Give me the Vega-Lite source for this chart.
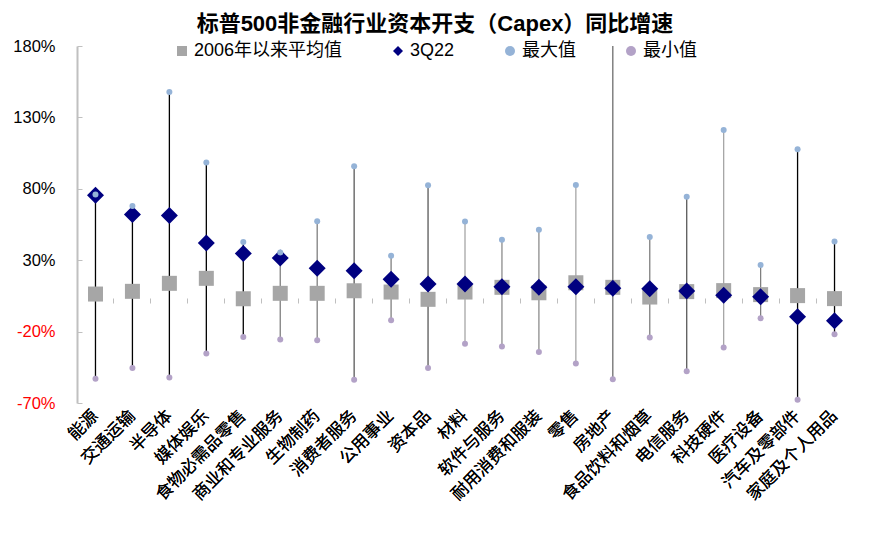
{
  "$schema": "https://vega.github.io/schema/vega-lite/v6.json",
  "width": 776,
  "height": 357,
  "autosize": {"type": "none"},
  "padding": {"left": 77, "top": 46, "right": 17, "bottom": 137},
  "background": "white",
  "title": {
    "text": "标普500非金融行业资本开支（Capex）同比增速",
    "font": "Liberation Sans, Noto Sans CJK SC",
    "fontSize": 22,
    "fontWeight": "bold",
    "color": "black",
    "anchor": "middle",
    "dx": -30,
    "offset": 2
  },
  "config": {
    "view": {"stroke": null},
    "axis": {"grid": false}
  },
  "data": {
    "values": [
      {"cat": "能源", "avg": 6.3, "q3": 75.5, "max": 76, "min": -53},
      {"cat": "交通运输", "avg": 8.2, "q3": 62, "max": 68, "min": -45.5},
      {"cat": "半导体", "avg": 13.8, "q3": 61.3, "max": 147.8, "min": -52.2},
      {"cat": "媒体娱乐", "avg": 17.3, "q3": 42, "max": 98.4, "min": -35.4},
      {"cat": "食物必需品零售", "avg": 3, "q3": 34.7, "max": 42.7, "min": -23.8},
      {"cat": "商业和专业服务", "avg": 6.8, "q3": 31.5, "max": 35.4, "min": -25.6},
      {"cat": "生物制药", "avg": 6.8, "q3": 24.3, "max": 57.3, "min": -26.1},
      {"cat": "消费者服务", "avg": 8.6, "q3": 22.6, "max": 95.8, "min": -53.8},
      {"cat": "公用事业", "avg": 7.7, "q3": 16.6, "max": 33.1, "min": -12.1},
      {"cat": "资本品", "avg": 2.6, "q3": 13.3, "max": 82.5, "min": -45.5},
      {"cat": "材料", "avg": 7.7, "q3": 13.3, "max": 57.1, "min": -28.5},
      {"cat": "软件与服务", "avg": 11, "q3": 11.4, "max": 44.3, "min": -30.5},
      {"cat": "耐用消费和服装", "avg": 7.2, "q3": 11, "max": 51.3, "min": -34.3},
      {"cat": "零售", "avg": 14.2, "q3": 11.4, "max": 82.7, "min": -42.4},
      {"cat": "房地产", "avg": 11, "q3": 10.3, "max": 210, "min": -53.4},
      {"cat": "食品饮料和烟草", "avg": 4.2, "q3": 10, "max": 46.2, "min": -24.2},
      {"cat": "电信服务", "avg": 8, "q3": 8.4, "max": 74.4, "min": -47.8},
      {"cat": "科技硬件", "avg": 8.7, "q3": 5.4, "max": 121.2, "min": -31.2},
      {"cat": "医疗设备", "avg": 5.9, "q3": 4.4, "max": 26.6, "min": -10.7},
      {"cat": "汽车及零部件", "avg": 5.2, "q3": -9.6, "max": 107.7, "min": -67.8},
      {"cat": "家庭及个人用品", "avg": 3.1, "q3": -12.4, "max": 43.1, "min": -21.9}
    ]
  },
  "encoding": {
    "x": {
      "field": "cat",
      "type": "nominal",
      "sort": null,
      "title": null,
      "scale": {"paddingInner": 0, "paddingOuter": 0},
      "axis": {
        "orient": "bottom",
        "domain": false,
        "ticks": false,
        "labelAngle": -45,
        "labelAlign": "right",
        "labelBaseline": "middle",
        "labelPadding": 10,
        "labelFont": "Liberation Sans, Noto Sans CJK SC",
        "labelFontSize": 17,
        "labelColor": "black",
        "labelLimit": 0
      }
    }
  },
  "layer": [
    {
      "mark": {"type": "rule", "strokeWidth": 1.3, "clip": true},
      "encoding": {
        "x": {
          "field": "cat",
          "type": "nominal",
          "sort": null,
          "title": null,
          "axis": {
            "orient": "top",
            "offset": -257,
            "domain": false,
            "labels": false,
            "ticks": true,
            "bandPosition": 0,
            "tickColor": "#bfbfbf",
            "tickSize": 5
          }
        },
        "y": {
          "field": "min",
          "type": "quantitative",
          "title": null,
          "scale": {"domain": [-70, 180], "nice": false, "zero": false},
          "axis": {
            "values": [-70, -20, 30, 80, 130, 180],
            "labelExpr": "datum.value + '%'",
            "labelFont": "Liberation Sans, Noto Sans CJK SC",
            "labelFontSize": 16.5,
            "labelColor": {"condition": {"test": "datum.value < 0", "value": "#ff0000"}, "value": "black"},
            "domainColor": "#c0c0c0",
            "domainWidth": 2,
            "tickColor": "#c0c0c0",
            "tickSize": -5,
            "labelPadding": 27
          }
        },
        "y2": {"field": "max"},
        "stroke": {
          "field": "cat",
          "type": "nominal",
          "legend": null,
          "scale": {
            "domain": ["能源", "交通运输", "半导体", "媒体娱乐", "食物必需品零售", "商业和专业服务", "生物制药", "消费者服务", "公用事业", "资本品", "材料", "软件与服务", "耐用消费和服装", "零售", "房地产", "食品饮料和烟草", "电信服务", "科技硬件", "医疗设备", "汽车及零部件", "家庭及个人用品"],
            "range": ["#000000", "#000000", "#000000", "#000000", "#000000", "#7f7f7f", "#7f7f7f", "#595959", "#7f7f7f", "#595959", "#a6a6a6", "#8c8c8c", "#8c8c8c", "#a6a6a6", "#6e6e6e", "#7f7f7f", "#595959", "#a6a6a6", "#7f7f7f", "#000000", "#000000"]
          }
        }
      }
    },
    {
      "mark": {"type": "rule", "color": "#808080", "strokeWidth": 1},
      "encoding": {"y": {"datum": 0}}
    },
    {
      "transform": [{"fold": ["avg", "q3", "max", "min"], "as": ["key", "value"]}],
      "mark": {"type": "point", "filled": true, "opacity": 1, "clip": true},
      "encoding": {
        "y": {"field": "value", "type": "quantitative"},
        "color": {
          "field": "key",
          "type": "nominal",
          "scale": {"domain": ["avg", "q3", "max", "min"], "range": ["#a6a6a6", "#000080", "#95b3d7", "#b3a2c7"]},
          "legend": {
            "orient": "none",
            "legendX": 96,
            "legendY": -4,
            "direction": "horizontal",
            "columns": 4,
            "title": null,
            "padding": 0,
            "columnPadding": 46,
            "labelOffset": 3,
            "labelFont": "Liberation Sans, Noto Sans CJK SC",
            "labelFontSize": 18,
            "labelColor": "black",
            "labelLimit": 0,
            "symbolStrokeWidth": 0,
            "labelExpr": "{'avg': '2006年以来平均值', 'q3': '3Q22', 'max': '最大值', 'min': '最小值'}[datum.label]",
            "encode": {
              "symbols": {
                "update": {
                  "size": {"signal": "datum.value === 'max' || datum.value === 'min' ? 28 : 90"}
                }
              }
            }
          }
        },
        "shape": {
          "field": "key",
          "type": "nominal",
          "scale": {"domain": ["avg", "q3", "max", "min"], "range": ["square", "diamond", "circle", "circle"]}
        },
        "size": {
          "condition": [
            {"test": "datum.key === 'q3'", "value": 289},
            {"test": "datum.key === 'avg'", "value": 225}
          ],
          "value": 36
        }
      }
    }
  ]
}
